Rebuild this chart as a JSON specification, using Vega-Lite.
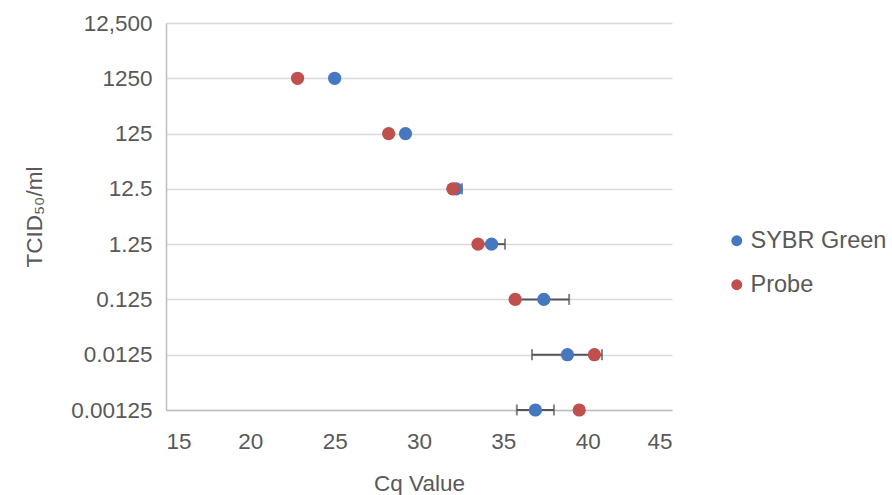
{
  "$schema": "https://vega.github.io/schema/vega-lite/v6.json",
  "width": 506,
  "height": 387,
  "autosize": {"type": "none"},
  "padding": {"left": 166, "top": 23, "right": 220, "bottom": 85},
  "background": "white",
  "config": {
    "view": {"stroke": null},
    "font": "Liberation Sans",
    "axis": {"labelFont": "Liberation Sans", "titleFont": "Liberation Sans", "labelColor": "#595959", "titleColor": "#595959", "titleFontWeight": "normal", "labelFontSize": 22.5, "titleFontSize": 22.5},
    "legend": {"labelFont": "Liberation Sans"}
  },
  "data": {
    "values": [
      {"tcid": "1250", "series": "SYBR Green", "cq": 25.0},
      {"tcid": "125", "series": "SYBR Green", "cq": 29.2},
      {"tcid": "12.5", "series": "SYBR Green", "cq": 32.2, "lo": 31.85, "hi": 32.55},
      {"tcid": "1.25", "series": "SYBR Green", "cq": 34.3, "lo": 33.5, "hi": 35.1},
      {"tcid": "0.125", "series": "SYBR Green", "cq": 37.4, "lo": 35.9, "hi": 38.9},
      {"tcid": "0.0125", "series": "SYBR Green", "cq": 38.8, "lo": 36.7, "hi": 40.85},
      {"tcid": "0.00125", "series": "SYBR Green", "cq": 36.9, "lo": 35.8, "hi": 38.0},
      {"tcid": "1250", "series": "Probe", "cq": 22.8},
      {"tcid": "125", "series": "Probe", "cq": 28.2},
      {"tcid": "12.5", "series": "Probe", "cq": 32.0},
      {"tcid": "1.25", "series": "Probe", "cq": 33.5},
      {"tcid": "0.125", "series": "Probe", "cq": 35.7},
      {"tcid": "0.0125", "series": "Probe", "cq": 40.4},
      {"tcid": "0.00125", "series": "Probe", "cq": 39.5}
    ]
  },
  "encoding": {
    "y": {
      "field": "tcid",
      "type": "ordinal",
      "scale": {"type": "point", "padding": 0, "domain": ["12,500", "1250", "125", "12.5", "1.25", "0.125", "0.0125", "0.00125"]},
      "axis": {
        "title": "TCID₅₀/ml",
        "grid": true,
        "gridColor": "#d9d9d9",
        "gridWidth": 1.5,
        "domainColor": "#bfbfbf",
        "domainWidth": 1.5,
        "ticks": false,
        "labelPadding": 14,
        "titlePadding": 24
      }
    }
  },
  "layer": [
    {
      "transform": [{"filter": "datum.lo != null"}],
      "mark": {"type": "errorbar", "color": "#555555", "thickness": 2, "ticks": {"size": 11, "color": "#555555", "thickness": 2}},
      "encoding": {
        "x": {"field": "lo", "type": "quantitative", "title": "Cq Value", "scale": {"domain": [15, 45], "zero": false, "nice": false}},
        "x2": {"field": "hi"}
      }
    },
    {
      "mark": {"type": "circle", "size": 175, "opacity": 1},
      "encoding": {
        "x": {
          "field": "cq",
          "type": "quantitative",
          "title": "Cq Value",
          "scale": {"domain": [15, 45], "zero": false, "nice": false},
          "axis": {
            "title": "Cq Value",
            "values": [15, 20, 25, 30, 35, 40, 45],
            "grid": false,
            "ticks": false,
            "domainColor": "#bfbfbf",
            "domainWidth": 1.5,
            "labelPadding": 20,
            "titlePadding": 20
          }
        },
        "color": {
          "field": "series",
          "type": "nominal",
          "scale": {"domain": ["SYBR Green", "Probe"], "range": ["#4677C1", "#C0504D"]},
          "legend": {
            "title": null,
            "orient": "none",
            "legendX": 559,
            "legendY": 206,
            "symbolType": "circle",
            "symbolSize": 120,
            "symbolOpacity": 1,
            "labelFontSize": 23.5,
            "labelColor": "#595959",
            "labelOffset": 2,
            "rowPadding": 19
          }
        }
      }
    }
  ]
}
